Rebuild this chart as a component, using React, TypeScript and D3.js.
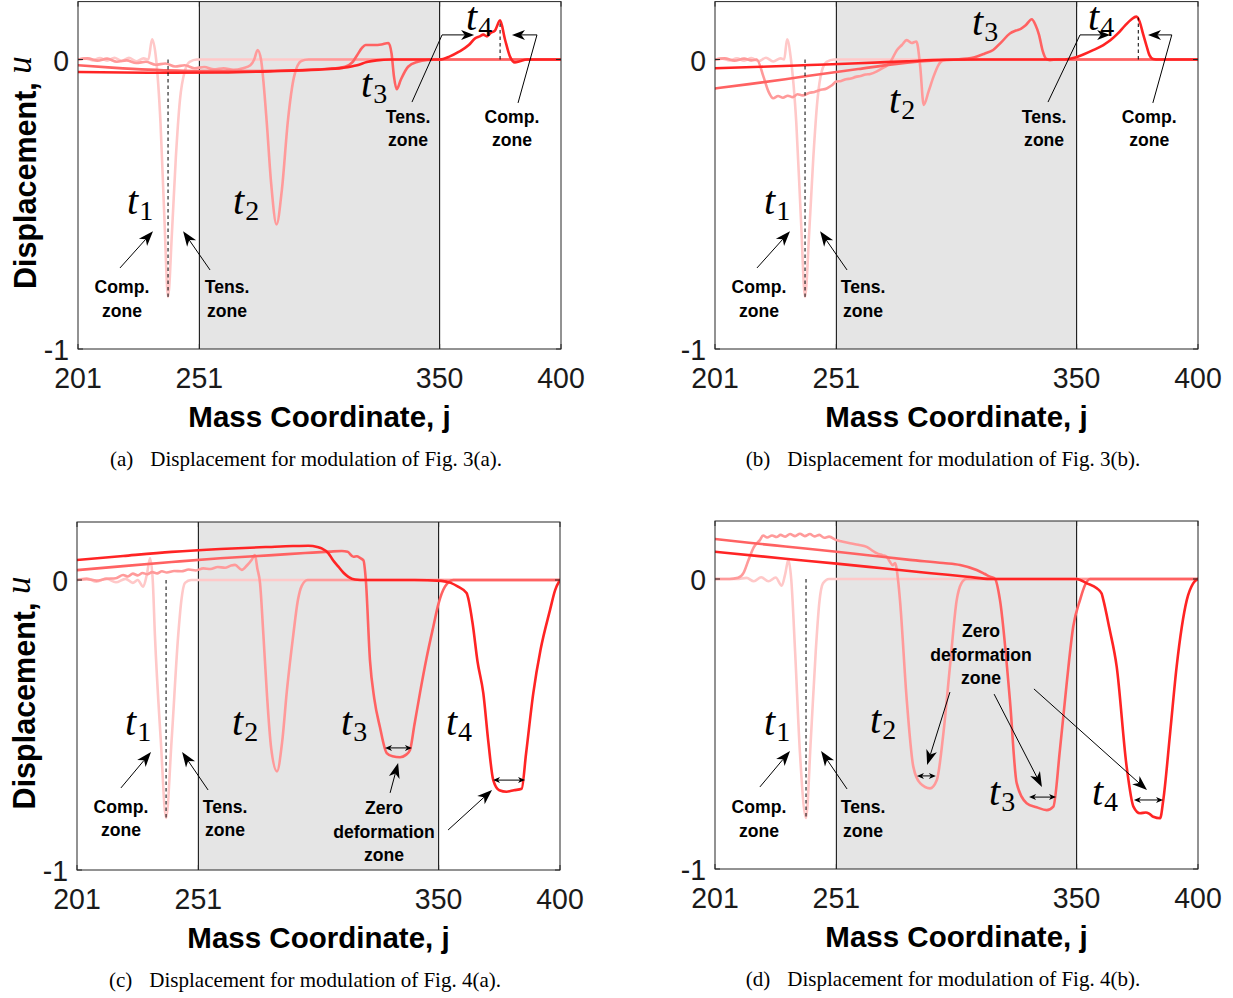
import React from 'react';
import * as d3 from 'd3';

type Pt = [number, number];

// ---------- axes / categories ----------
const J_TICKS = [201, 251, 350, 400];
const U_TICKS = [0, -1];
const J_DOMAIN: Pt = [201, 400];
const U_DOMAIN: Pt = [-1, 0.2];
const ZONE_J: Pt = [251, 350];
const SERIES_NAMES = ['t1', 't2', 't3', 't4'];
const SERIES_COLORS = ['#ffc8c8', '#ff9a9a', '#ff6262', '#ff2424'];
const PANEL_LETTERS = ['(a)', '(b)', '(c)', '(d)'];
const PANEL_CAPTIONS = [
  'Displacement for modulation of Fig. 3(a).',
  'Displacement for modulation of Fig. 3(b).',
  'Displacement for modulation of Fig. 4(a).',
  'Displacement for modulation of Fig. 4(b).',
];

// ---------- panel (a) series ----------
const A_T1: Pt[] = [[201,0],[204,0.004],[207,-0.003],[210,0.005],[213,-0.004],[216,0.006],[219,-0.005],[222,0.006],[225,-0.006],[228,0.004],[230,0],[231.5,0.07],[233.2,0],[235,-0.22],[236.6,-0.55],[238.1,-0.82],[239.7,-0.6],[241.3,-0.34],[243,-0.14],[245,-0.04],[247,-0.008],[250,0],[400,0]];
const A_T2: Pt[] = [[201,0],[205,0.004],[209,-0.004],[213,0.003],[217,-0.008],[221,-0.003],[225,-0.012],[229,-0.008],[233,-0.018],[237,-0.014],[241,-0.024],[245,-0.02],[249,-0.03],[253,-0.026],[257,-0.034],[261,-0.03],[265,-0.036],[269,-0.03],[272,-0.02],[273.6,0],[275,0.033],[276.4,0],[278.7,-0.21],[280.6,-0.43],[282.8,-0.57],[285,-0.45],[287.5,-0.21],[290,-0.06],[293,-0.005],[296,0],[400,0]];
const A_T3: Pt[] = [[201,-0.02],[215,-0.028],[230,-0.035],[250,-0.04],[270,-0.04],[290,-0.037],[305,-0.032],[311,-0.025],[314,-0.01],[316,0.015],[318,0.04],[319.5,0.05],[323,0.05],[326,0.052],[328.9,0.057],[330.2,0.02],[331.2,-0.06],[332.3,-0.103],[334,-0.07],[337,-0.025],[341,-0.008],[345,-0.002],[350,0],[400,0]];
const A_T4: Pt[] = [[201,-0.043],[220,-0.045],[240,-0.046],[260,-0.045],[280,-0.041],[300,-0.035],[310,-0.029],[316,-0.02],[320,-0.009],[324,-0.003],[330,0],[350,0],[354,0.01],[358,0.027],[362,0.05],[364.6,0.073],[366.5,0.08],[368,0.086],[369.5,0.08],[371,0.092],[372.8,0.1],[374.9,0.135],[376.9,0.07],[379,0.01],[381,-0.01],[383,-0.006],[386,0],[400,0]];

// ---------- panel (b) series ----------
const B_T1: Pt[] = [[201,0],[204,0.003],[207,-0.003],[210,0.004],[213,-0.004],[216,0.005],[219,-0.006],[222,0.006],[225,-0.007],[228,0.004],[229.5,0],[230.7,0.07],[232.3,0],[234.5,-0.22],[236.4,-0.55],[238.1,-0.82],[239.8,-0.6],[241.5,-0.34],[243.2,-0.14],[245,-0.04],[247,-0.008],[250,0],[400,0]];
const B_T2: Pt[] = [[201,0],[205,0.004],[209,-0.004],[213,0.003],[216,-0.003],[218.2,0],[221,-0.06],[223,-0.11],[225,-0.134],[227,-0.126],[229,-0.132],[231,-0.125],[233,-0.13],[235,-0.12],[237,-0.124],[240,-0.115],[242,-0.112],[244,-0.106],[247,-0.1],[249,-0.09],[251,-0.076],[253,-0.074],[255,-0.068],[257,-0.066],[259,-0.06],[261,-0.057],[263,-0.052],[265,-0.05],[267.5,-0.042],[270,-0.03],[272,-0.02],[273.5,-0.005],[276,0.033],[278,0.05],[280,0.067],[282,0.057],[284,0.062],[285.5,-0.02],[287,-0.157],[289,-0.11],[291,-0.06],[293,-0.02],[295,-0.003],[298,0],[400,0]];
const B_T3: Pt[] = [[201,-0.1],[215,-0.085],[230,-0.068],[245,-0.05],[260,-0.033],[275,-0.016],[290,-0.004],[300,0],[305,0.003],[308,0.008],[312,0.02],[315.6,0.033],[319,0.06],[322.5,0.09],[325,0.1],[327,0.106],[329,0.118],[331.5,0.139],[333,0.12],[334.5,0.085],[336,0.03],[337.5,0.002],[339,-0.002],[342,0],[400,0]];
const B_T4: Pt[] = [[201,-0.03],[220,-0.025],[240,-0.019],[260,-0.013],[280,-0.006],[295,-0.001],[310,0],[345,0],[349,0.006],[353,0.018],[357,0.033],[361,0.05],[364,0.067],[367,0.09],[370,0.118],[372.5,0.138],[374.6,0.148],[376,0.13],[377.3,0.09],[378.7,0.05],[380,0.015],[381.5,0.002],[384,0],[400,0]];

// ---------- panel (c) series ----------
const C_T1: Pt[] = [[201,0],[205,0.006],[209,-0.006],[213,0.005],[217,-0.008],[221,0.004],[224,-0.01],[226,0],[228.3,-0.023],[229.8,0.02],[231.1,0.075],[232.2,0],[233.1,-0.19],[235.5,-0.55],[237.7,-0.82],[240,-0.55],[242.7,-0.19],[244,-0.07],[245.5,-0.01],[248,0],[400,0]];
const C_T2: Pt[] = [[201,0],[205,0.003],[209,-0.002],[213,0.004],[217,0.006],[220,0.017],[222,0.012],[224,0.022],[226,0.016],[228,0.024],[230,0.02],[232,0.027],[234,0.023],[236,0.03],[238,0.026],[241,0.031],[244,0.03],[247,0.036],[250,0.033],[253,0.04],[256,0.038],[259,0.045],[262,0.042],[264.5,0.05],[266.1,0.052],[268.9,0.035],[271,0.05],[273,0.07],[274.3,0.086],[275.3,0.04],[276.4,-0.01],[277.8,-0.19],[279.3,-0.4],[281,-0.58],[283.4,-0.66],[285.5,-0.56],[287.5,-0.38],[290.1,-0.19],[292,-0.07],[293.6,-0.02],[296,0],[400,0]];
const C_T3: Pt[] = [[201,0.034],[220,0.048],[240,0.062],[260,0.075],[280,0.085],[295,0.093],[305,0.098],[310.1,0.1],[312.5,0.097],[314.9,0.08],[316.3,0.082],[317.6,0.076],[319,0.068],[320,0],[321.7,-0.276],[323.5,-0.41],[325.8,-0.507],[328.6,-0.597],[331,-0.608],[334.1,-0.611],[336.5,-0.603],[338.2,-0.586],[340,-0.5],[342.3,-0.39],[345,-0.27],[347.8,-0.161],[350,-0.08],[352.6,-0.023],[356,0],[400,0]];
const C_T4: Pt[] = [[201,0.069],[220,0.083],[240,0.097],[260,0.107],[280,0.114],[290,0.117],[296.3,0.118],[300,0.114],[301.8,0.109],[304.6,0.092],[306.5,0.068],[308.7,0.046],[310.8,0.025],[312.8,0.011],[315.5,0.002],[320,0],[340,0],[351,-0.003],[355,-0.01],[358,-0.023],[361.5,-0.045],[364,-0.15],[366,-0.28],[368.4,-0.39],[370.5,-0.56],[372.5,-0.69],[375,-0.725],[378,-0.73],[381,-0.725],[384.2,-0.72],[386,-0.6],[389,-0.39],[392,-0.24],[395.9,-0.103],[398,-0.035],[400,0]];

// ---------- panel (d) series ----------
const D_T1: Pt[] = [[201,0],[210,0],[214,0.004],[217,-0.008],[220,0.006],[223,-0.008],[226,0.005],[228.5,-0.023],[230,0.02],[231.2,0.066],[232.4,0],[234,-0.25],[236,-0.6],[238.5,-0.824],[240.5,-0.55],[242.5,-0.25],[244,-0.08],[245.5,-0.015],[248,0],[400,0]];
const D_T2: Pt[] = [[201,0],[207,0],[210.5,0.004],[212.7,0.02],[215,0.07],[217,0.11],[219.5,0.134],[220.8,0.15],[222.5,0.143],[224.5,0.15],[226.4,0.145],[228,0.152],[230,0.146],[231.9,0.155],[234,0.148],[236,0.156],[238,0.148],[240.1,0.155],[242,0.147],[244,0.152],[246,0.142],[248,0.146],[251.1,0.134],[253,0.13],[256.6,0.123],[260,0.118],[263.5,0.111],[265.5,0.1],[267.6,0.089],[270,0.082],[271.7,0.077],[273,0.06],[274.2,0.048],[275.2,0.055],[276.5,-0.01],[277.2,-0.072],[280,-0.417],[282.7,-0.647],[285.5,-0.704],[289.6,-0.722],[292.4,-0.693],[295.1,-0.532],[297.8,-0.302],[300.6,-0.072],[302.5,-0.015],[304.5,0],[400,0]];
const D_T3: Pt[] = [[201,0.138],[215,0.125],[230,0.112],[251.1,0.094],[265,0.081],[281.3,0.066],[295,0.055],[302,0.048],[308.8,0.031],[312,0.018],[314.3,0.008],[316.4,0],[318.4,-0.072],[322.5,-0.417],[325.3,-0.704],[329.4,-0.773],[333.5,-0.787],[337.7,-0.797],[340.4,-0.785],[343.1,-0.59],[345.9,-0.36],[348.6,-0.164],[351.4,-0.072],[353.5,-0.02],[355.5,0],[400,0]];
const D_T4: Pt[] = [[201,0.094],[230,0.07],[251.1,0.053],[270,0.037],[290,0.02],[305,0.008],[314.3,0],[350,0],[354.2,-0.015],[358.3,-0.032],[360.3,-0.05],[361,-0.072],[363.5,-0.17],[366.5,-0.302],[370.6,-0.647],[373.4,-0.785],[376.1,-0.808],[378.5,-0.805],[380,-0.81],[381.6,-0.82],[384.4,-0.825],[385.7,-0.762],[388.5,-0.532],[391.2,-0.302],[395.4,-0.072],[398,-0.015],[400,0]];

// ---------- annotations (data coordinates: [j, u]) ----------
type Label = { sub: string; j: number; u: number };
type Txt = { lines: string[]; j: number; u: number };
type Arrow = { pts: Pt[]; kind: 'big' | 'mid' | 'double' };
type Dash = { j: number; u0: number; u1: number };

const A_LABELS: Label[] = [{ sub: '1', j: 221.2, u: -0.534 }, { sub: '2', j: 264.9, u: -0.534 }, { sub: '3', j: 317.6, u: -0.13 }, { sub: '4', j: 360.9, u: 0.103 }];
const B_LABELS: Label[] = [{ sub: '1', j: 221.2, u: -0.534 }, { sub: '2', j: 272.7, u: -0.185 }, { sub: '3', j: 306.9, u: 0.085 }, { sub: '4', j: 354.7, u: 0.103 }];
const C_LABELS: Label[] = [{ sub: '1', j: 220.8, u: -0.534 }, { sub: '2', j: 264.9, u: -0.534 }, { sub: '3', j: 309.8, u: -0.534 }, { sub: '4', j: 353, u: -0.534 }];
const D_LABELS: Label[] = [{ sub: '1', j: 221.2, u: -0.538 }, { sub: '2', j: 264.9, u: -0.531 }, { sub: '3', j: 313.9, u: -0.779 }, { sub: '4', j: 356.3, u: -0.779 }];

const A_TEXTS: Txt[] = [{ lines: ['Comp.', 'zone'], j: 219.1, u: -0.807 }, { lines: ['Tens.', 'zone'], j: 262.4, u: -0.807 }, { lines: ['Tens.', 'zone'], j: 337, u: -0.219 }, { lines: ['Comp.', 'zone'], j: 379.8, u: -0.219 }];
const B_TEXTS: Txt[] = [{ lines: ['Comp.', 'zone'], j: 219.1, u: -0.807 }, { lines: ['Tens.', 'zone'], j: 262, u: -0.807 }, { lines: ['Tens.', 'zone'], j: 336.6, u: -0.219 }, { lines: ['Comp.', 'zone'], j: 379.9, u: -0.219 }];
const C_TEXTS: Txt[] = [{ lines: ['Comp.', 'zone'], j: 219.1, u: -0.803 }, { lines: ['Tens.', 'zone'], j: 262, u: -0.803 }, { lines: ['Zero', 'deformation', 'zone'], j: 327.5, u: -0.807 }];
const D_TEXTS: Txt[] = [{ lines: ['Comp.', 'zone'], j: 219.1, u: -0.807 }, { lines: ['Tens.', 'zone'], j: 262, u: -0.807 }, { lines: ['Zero', 'deformation', 'zone'], j: 310.6, u: -0.2 }];

const A_ARROWS: Arrow[] = [
  { pts: [[218.3, -0.72], [231.9, -0.593]], kind: 'big' },
  { pts: [[255.4, -0.727], [244.3, -0.593]], kind: 'big' },
  { pts: [[338.6, -0.147], [351, 0.085], [364.2, 0.085]], kind: 'mid' },
  { pts: [[382.3, -0.15], [390.1, 0.085], [379.8, 0.085]], kind: 'mid' },
];
const B_ARROWS: Arrow[] = [
  { pts: [[218.3, -0.72], [231.9, -0.593]], kind: 'big' },
  { pts: [[255.4, -0.727], [244.3, -0.593]], kind: 'big' },
  { pts: [[338.2, -0.147], [351.4, 0.085], [363.8, 0.085]], kind: 'mid' },
  { pts: [[381.4, -0.15], [389.2, 0.085], [379.4, 0.085]], kind: 'mid' },
];
const C_ARROWS: Arrow[] = [
  { pts: [[219.1, -0.717], [231.5, -0.593]], kind: 'big' },
  { pts: [[255, -0.724], [244.3, -0.593]], kind: 'big' },
  { pts: [[330, -0.734], [333.3, -0.631]], kind: 'big' },
  { pts: [[353.9, -0.862], [372, -0.724]], kind: 'big' },
  { pts: [[327.9, -0.579], [339, -0.579]], kind: 'double' },
  { pts: [[372.4, -0.69], [385.6, -0.69]], kind: 'double' },
];
const D_ARROWS: Arrow[] = [
  { pts: [[219.5, -0.717], [231.9, -0.593]], kind: 'big' },
  { pts: [[255.4, -0.724], [244.7, -0.593]], kind: 'big' },
  { pts: [[297.8, -0.39], [288.4, -0.641]], kind: 'big' },
  { pts: [[316, -0.397], [335.7, -0.717]], kind: 'big' },
  { pts: [[332.4, -0.379], [379, -0.728]], kind: 'big' },
  { pts: [[284.2, -0.679], [292, -0.679]], kind: 'double' },
  { pts: [[330.4, -0.752], [341.5, -0.752]], kind: 'double' },
  { pts: [[373.6, -0.762], [385.6, -0.762]], kind: 'double' },
];

const A_DASHES: Dash[] = [{ j: 238.1, u0: 0, u1: -0.82 }, { j: 374.9, u0: 0, u1: 0.135 }];
const B_DASHES: Dash[] = [{ j: 238.1, u0: 0, u1: -0.82 }, { j: 375.4, u0: 0, u1: 0.145 }];
const C_DASHES: Dash[] = [{ j: 237.7, u0: 0, u1: -0.82 }];
const D_DASHES: Dash[] = [{ j: 238.5, u0: 0, u1: -0.824 }];

// ---------- layout ----------
const PANELS = [
  { box: { left: 78, right: 561, top: 1.6, bottom: 349 }, yLabel: true, series: [A_T1, A_T2, A_T3, A_T4], labels: A_LABELS, texts: A_TEXTS, arrows: A_ARROWS, dashes: A_DASHES },
  { box: { left: 715, right: 1198, top: 1.6, bottom: 349 }, yLabel: false, series: [B_T1, B_T2, B_T3, B_T4], labels: B_LABELS, texts: B_TEXTS, arrows: B_ARROWS, dashes: B_DASHES },
  { box: { left: 77, right: 560, top: 522, bottom: 870 }, yLabel: true, series: [C_T1, C_T2, C_T3, C_T4], labels: C_LABELS, texts: C_TEXTS, arrows: C_ARROWS, dashes: C_DASHES },
  { box: { left: 715, right: 1198, top: 521, bottom: 869 }, yLabel: false, series: [D_T1, D_T2, D_T3, D_T4], labels: D_LABELS, texts: D_TEXTS, arrows: D_ARROWS, dashes: D_DASHES },
];

const SANS = '"Liberation Sans", Arial, Helvetica, sans-serif';
const SERIF = '"Liberation Serif", "Times New Roman", serif';

function headPath(x1: number, y1: number, x2: number, y2: number, L: number, Wd: number) {
  const dx = x2 - x1, dy = y2 - y1;
  const len = Math.hypot(dx, dy) || 1;
  const ux = dx / len, uy = dy / len;
  const px = -uy, py = ux;
  const bx = x2 - ux * L, by = y2 - uy * L;
  const nx = x2 - ux * L * 0.72, ny = y2 - uy * L * 0.72;
  return {
    d: `M${x2},${y2}L${bx + px * Wd},${by + py * Wd}L${nx},${ny}L${bx - px * Wd},${by - py * Wd}Z`,
    nx, ny,
  };
}

function Panel({ p, idx }: { p: typeof PANELS[number]; idx: number }) {
  const { box } = p;
  const x = d3.scaleLinear().domain(J_DOMAIN).range([box.left, box.right]);
  const y = d3.scaleLinear().domain(U_DOMAIN).range([box.bottom, box.top]);
  const line = d3.line<Pt>().x(d => x(d[0])).y(d => y(d[1])).curve(d3.curveMonotoneX);
  const clipId = `clip${idx}`;
  const cx = (box.left + box.right) / 2;
  const tickLen = 5;
  const axisColor = '#262626';

  return (
    <g>
      <defs>
        <clipPath id={clipId}>
          <rect x={box.left} y={box.top} width={box.right - box.left} height={box.bottom - box.top} />
        </clipPath>
      </defs>
      <rect x={box.left} y={box.top} width={box.right - box.left} height={box.bottom - box.top} fill="#fff" />
      <rect x={x(ZONE_J[0])} y={box.top} width={x(ZONE_J[1]) - x(ZONE_J[0])} height={box.bottom - box.top} fill="#e5e5e5" />
      {ZONE_J.map(j => (
        <line key={j} x1={x(j)} x2={x(j)} y1={box.top} y2={box.bottom} stroke="#000" strokeWidth={1} />
      ))}
      <g clipPath={`url(#${clipId})`}>
        {p.series.map((s, i) => (
          <path key={SERIES_NAMES[i]} d={line(s) || ''} fill="none" stroke={SERIES_COLORS[i]} strokeWidth={2.6} strokeLinejoin="round" strokeLinecap="round" />
        ))}
      </g>
      {p.dashes.map((d, i) => (
        <line key={i} x1={x(d.j)} x2={x(d.j)} y1={y(d.u0)} y2={y(d.u1)} stroke="#000" strokeWidth={1} strokeDasharray="3.5,3" />
      ))}
      {/* box */}
      <rect x={box.left} y={box.top} width={box.right - box.left} height={box.bottom - box.top} fill="none" stroke={axisColor} strokeWidth={1} />
      {J_TICKS.map(t => (
        <g key={t}>
          <line x1={x(t)} x2={x(t)} y1={box.bottom} y2={box.bottom - tickLen} stroke={axisColor} />
          <line x1={x(t)} x2={x(t)} y1={box.top} y2={box.top + tickLen} stroke={axisColor} />
          <text transform={`translate(${x(t)},${box.bottom + 39}) scale(0.95,1)`} textAnchor="middle" fontFamily={SANS} fontSize={30} fill="#1a1a1a">{t}</text>
        </g>
      ))}
      {U_TICKS.map(t => (
        <g key={t}>
          <line x1={box.left} x2={box.left + tickLen} y1={y(t)} y2={y(t)} stroke={axisColor} />
          <line x1={box.right} x2={box.right - tickLen} y1={y(t)} y2={y(t)} stroke={axisColor} />
          <text transform={`translate(${box.left - 9},${y(t) + 11}) scale(0.95,1)`} textAnchor="end" fontFamily={SANS} fontSize={30} fill="#1a1a1a">{t === -1 ? '-1' : String(t)}</text>
        </g>
      ))}
      <text x={cx} y={box.bottom + 78} textAnchor="middle" fontFamily={SANS} fontWeight="bold" fontSize={29.5} fill="#000">Mass Coordinate, j</text>
      {p.yLabel && (
        <text transform={`translate(${box.left - 42},${box.top + 171}) rotate(-90)`} textAnchor="middle" fontFamily={SANS} fontWeight="bold" fontSize={30.5} fill="#000">
          Displacement, <tspan fontFamily={SERIF} fontStyle="italic" fontWeight="normal" fontSize={35} dy={-5}>u</tspan>
        </text>
      )}
      <text x={box.left + 228} y={box.bottom + 117} textAnchor="middle" fontFamily={SERIF} fontSize={21} fill="#000">
        {PANEL_LETTERS[idx]}<tspan dx={17}>{PANEL_CAPTIONS[idx]}</tspan>
      </text>
      {/* t labels */}
      {p.labels.map((l, i) => (
        <text key={i} x={x(l.j)} y={y(l.u)} fontFamily={SERIF} fontStyle="italic" fontSize={40} fill="#000">
          t<tspan fontStyle="normal" fontSize={28} dx={1} dy={6}>{l.sub}</tspan>
        </text>
      ))}
      {/* zone texts */}
      {p.texts.map((t, i) => (
        <text key={i} x={x(t.j)} y={y(t.u)} textAnchor="middle" fontFamily={SANS} fontWeight="bold" fontSize={17.6} fill="#000">
          {t.lines.map((ln, k) => (
            <tspan key={k} x={x(t.j)} dy={k === 0 ? 0 : 23.5}>{ln}</tspan>
          ))}
        </text>
      ))}
      {/* arrows */}
      {p.arrows.map((a, i) => {
        const px = a.pts.map(pt => [x(pt[0]), y(pt[1])] as Pt);
        const n = px.length;
        if (a.kind === 'double') {
          const h1 = headPath(px[0][0], px[0][1], px[1][0], px[1][1], 7, 3);
          const h0 = headPath(px[1][0], px[1][1], px[0][0], px[0][1], 7, 3);
          return (
            <g key={i}>
              <line x1={h0.nx} y1={h0.ny} x2={h1.nx} y2={h1.ny} stroke="#000" strokeWidth={1} />
              <path d={h1.d} fill="#000" />
              <path d={h0.d} fill="#000" />
            </g>
          );
        }
        const L = a.kind === 'big' ? 15 : 13;
        const Wd = a.kind === 'big' ? 5.5 : 5;
        const h = headPath(px[n - 2][0], px[n - 2][1], px[n - 1][0], px[n - 1][1], L, Wd);
        const pts = px.slice(0, n - 1).map(q => `${q[0]},${q[1]}`).join(' ') + ` ${h.nx},${h.ny}`;
        return (
          <g key={i}>
            <polyline points={pts} fill="none" stroke="#000" strokeWidth={1} />
            <path d={h.d} fill="#000" />
          </g>
        );
      })}
    </g>
  );
}

export default function App() {
  return (
    <svg width={1233} height={998} viewBox="0 0 1233 998" style={{ position: 'absolute', left: 0, top: 0, background: '#fff' }}>
      <rect x={0} y={0} width={1233} height={998} fill="#fff" />
      {PANELS.map((p, i) => (
        <Panel key={i} p={p} idx={i} />
      ))}
    </svg>
  );
}
